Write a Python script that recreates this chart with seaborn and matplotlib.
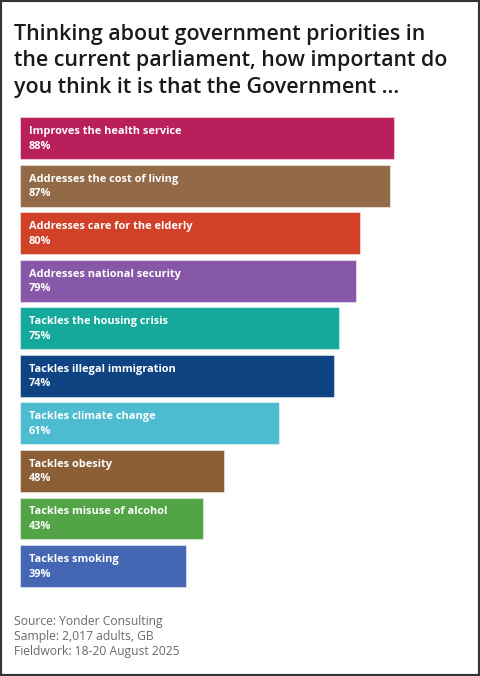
import matplotlib
matplotlib.use("Agg")
import matplotlib.pyplot as plt
import seaborn as sns
import pandas as pd
from matplotlib.patches import Rectangle

categories = [
    "Improves the health service",
    "Addresses the cost of living",
    "Addresses care for the elderly",
    "Addresses national security",
    "Tackles the housing crisis",
    "Tackles illegal immigration",
    "Tackles climate change",
    "Tackles obesity",
    "Tackles misuse of alcohol",
    "Tackles smoking",
]
values = [88, 87, 80, 79, 75, 74, 61, 48, 43, 39]
colors = ["#B81F5B", "#936A48", "#D04127", "#8858A8", "#14A99A",
          "#0E4482", "#4DBCD1", "#8B5E36", "#52A446", "#4466B3"]

title = "Thinking about government priorities in\nthe current parliament, how important do\nyou think it is that the Government ..."
footer = ["Source: Yonder Consulting", "Sample: 2,017 adults, GB", "Fieldwork: 18-20 August 2025"]

sns.set_theme(style="white")
plt.rcParams['font.family'] = ['Open Sans', 'DejaVu Sans']

df = pd.DataFrame({"cat": categories, "val": values})

fig = plt.figure(figsize=(4.8, 6.76), dpi=100)
fig.patch.set_facecolor("white")
ax = fig.add_axes([20/480, 0.1275, 425/480, 0.7035])

sns.barplot(data=df, y="cat", x="val", hue="cat", palette=colors, legend=False,
            orient="h", width=0.88, ax=ax, edgecolor=(1, 1, 1, 0.45), linewidth=0.8,
            saturation=1)
ax.set_xlim(0, 100)
ax.set_ylim(9.5, -0.5)
ax.axis("off")

for i, (c, v) in enumerate(zip(categories, values)):
    ax.annotate(c, xy=(0, i), xytext=(9, 6.5), textcoords="offset pixels",
                ha="left", va="center", color="white", fontsize=7.9, fontweight="bold")
    ax.annotate(f"{v}%", xy=(0, i), xytext=(9, -8), textcoords="offset pixels",
                ha="left", va="center", color="white", fontsize=7.9, fontweight="bold")

fig.text(14/480, 1 - 24/676, title, ha="left", va="top", fontsize=15.4,
         fontweight="semibold", color="#1a1a1a", linespacing=1.34)

for k, line in enumerate(footer):
    fig.text(14/480, 1 - (621.5 + 15*k)/676, line, ha="left", va="center",
             fontsize=8.7, color="#6a6a6a")

fig.patches.append(Rectangle((0, 0), 1, 1, transform=fig.transFigure, fill=False,
                             edgecolor="#333333", linewidth=3, zorder=10))

fig.savefig("out.png", dpi=100)
